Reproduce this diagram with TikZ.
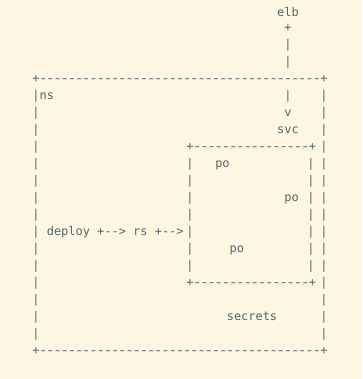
\documentclass[tikz,border=0pt]{standalone}
\usepackage{fontspec}
\newfontfamily\asciifont{DejaVu Sans Mono}
\definecolor{paper}{HTML}{FDF6E3}
\definecolor{ink}{HTML}{52666F}

% a run of n dashes, each stretched a little within its cell
\newcommand\dashrun[1]{\foreach \i in {1,...,#1}{\makebox[7.2pt]{\scalebox{1.3}[1]{-}}}}

\begin{document}
\begin{tikzpicture}[
    % one unit = one character cell
    x=7.2pt, y=-16.97pt,
    shift={(36pt,-12.5pt)},
    % Define styles for the characters
    glyph/.style={
        font=\asciifont\fontsize{11.95}{14}\selectfont,
        text=ink,
        inner sep=0pt,
        anchor=mid
    }
]

\useasboundingbox[fill=paper] (-36pt,12.5pt) rectangle (326pt,-366.5pt);

% Load balancer feeding down into the service
\node[glyph] (elb) at (35,0.1) {elb};
\node[glyph] (elbplus) at (35,1) {+};
\node[glyph] (elbbar2) at (35,2) {|};
\node[glyph] (elbbar3) at (35,3) {|};
\node[glyph] (elbbar5) at (35,5) {|};
\node[glyph] (elbtip) at (35,6) {v};
\node[glyph] (svc) at (35,7) {svc};

% Namespace frame
\node[glyph] (nstop) at (20,4) {+\dashrun{39}+};
\node[glyph] (nsbot) at (20,20) {+\dashrun{39}+};
\foreach \r in {5,...,19} {
    \node[glyph] (nsleft\r) at (0,\r) {|};
    \node[glyph] (nsright\r) at (40,\r) {|};
}
\node[glyph] (ns) at (1.5,5) {ns};

% Pod group box
\node[glyph] (podtop) at (29.9,8) {+\dashrun{16}+};
\node[glyph] (podbot) at (29.9,16) {+\dashrun{16}+};
\foreach \r in {9,...,15} {
    \node[glyph] (podleft\r) at (21.4,\r) {|};
    \node[glyph] (podright\r) at (38.2,\r) {|};
}

% Pods
\node[glyph] (poa) at (25.9,9) {po};
\node[glyph] (pob) at (35.5,11) {po};
\node[glyph] (poc) at (27.9,14) {po};

% Deployment chain
\node[glyph] (deploy) at (4.5,13) {deploy};
\node[glyph] (deploytors) at (10.5,13) {+-->};
\node[glyph] (rs) at (14.5,13) {rs};
\node[glyph] (rstopods) at (18.5,13) {+-->};

\node[glyph] (secrets) at (30,18) {secrets};

\end{tikzpicture}
\end{document}
